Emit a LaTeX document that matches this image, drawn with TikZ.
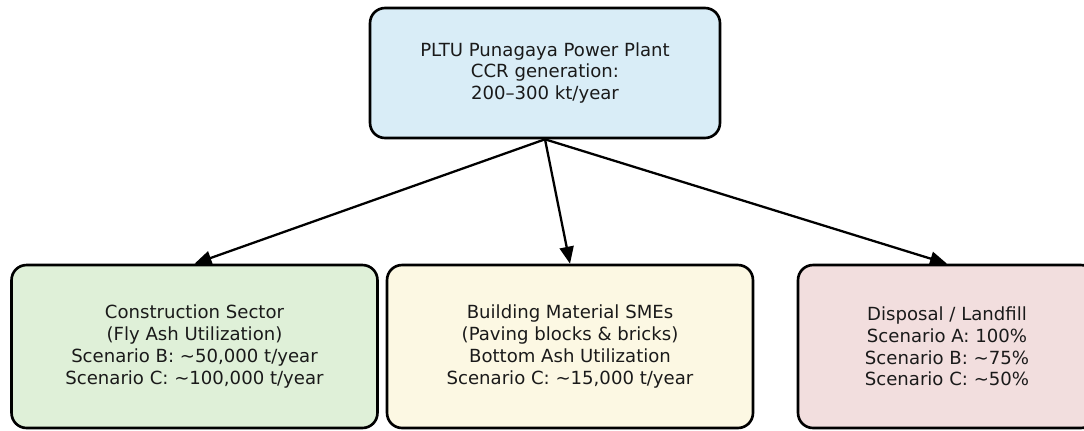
\documentclass[tikz,border=0pt]{standalone}
\usepackage{fontspec}
\setmainfont{DejaVu Sans}
\usetikzlibrary{arrows.meta}
\definecolor{topfill}{HTML}{D9EDF7}
\definecolor{greenfill}{HTML}{DFF0D8}
\definecolor{yellowfill}{HTML}{FCF8E3}
\definecolor{pinkfill}{HTML}{F2DEDE}
\definecolor{txt}{HTML}{1A1A1A}
\tikzset{
  box/.style={draw=black, line width=1.5pt, rounded corners=0.3cm, align=center,
    text=txt, font=\fontsize{10.3pt}{12.4pt}\selectfont, inner sep=0pt},
  flow/.style={draw=black, line width=1.3pt, -{Triangle[length=0.34cm,width=0.28cm]}},
}
\begin{document}
\begin{tikzpicture}[x=0.02cm,y=-0.02cm]
\useasboundingbox (0,0) rectangle (1084,430);
\clip (0,0) rectangle (1084,430);
\fill[white] (0,0) rectangle (1084,430);
\node[box, fill=topfill, minimum width=7cm, minimum height=2.6cm] (plant) at (545,73)
  {PLTU Punagaya Power Plant\\CCR generation:\\200–300 kt/year};
\node[box, fill=greenfill, minimum width=7.32cm, minimum height=3.26cm] (constr) at (194.5,346.5)
  {Construction Sector\\(Fly Ash Utilization)\\Scenario B: \textasciitilde 50,000 t/year\\Scenario C: \textasciitilde 100,000 t/year};
\node[box, fill=yellowfill, minimum width=7.32cm, minimum height=3.26cm] (sme) at (570,346.5)
  {Building Material SMEs\\(Paving blocks \& bricks)\\Bottom Ash Utilization\\Scenario C: \textasciitilde 15,000 t/year};
\node[box, fill=pinkfill, minimum width=5.96cm, minimum height=3.26cm] (landfill) at (947,346.5)
  {Disposal / Landfill\\Scenario A: 100\%\\Scenario B: \textasciitilde 75\%\\Scenario C: \textasciitilde 50\%};
\draw[flow] (plant.south) -- (constr.north);
\draw[flow] (plant.south) -- (sme.north);
\draw[flow] (plant.south) -- (landfill.north);
\end{tikzpicture}
\end{document}
